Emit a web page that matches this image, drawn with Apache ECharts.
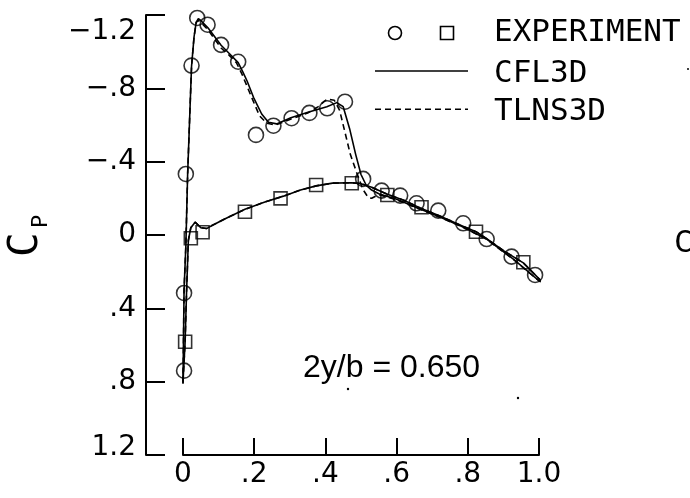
<!DOCTYPE html>
<html>
<head>
<meta charset="utf-8">
<script src="https://cdn.jsdelivr.net/npm/echarts@6/dist/echarts.min.js"></script>
<style>
html,body{margin:0;padding:0;background:#fff;}
#chart{width:690px;height:498px;}
</style>
</head>
<body>
<div id="chart"></div>
<script>
// ---- tick labels ----
const xTickLabels = ['0', '.2', '.4', '.6', '.8', '1.0'];
const yTickLabels = ['\u22121.2', '\u2212.8', '\u2212.4', '0', '.4', '.8', '1.2'];

// ---- experiment: circles ----
const expCircleX  = [0.003, 0.003, 0.008, 0.024, 0.040, 0.069, 0.107, 0.155, 0.205, 0.254, 0.305, 0.355, 0.405, 0.455, 0.506, 0.558, 0.610, 0.656, 0.717, 0.787, 0.853, 0.923, 0.989];
const expCircleCp = [0.740, 0.316, -0.333, -0.924, -1.184, -1.147, -1.037, -0.945, -0.546, -0.596, -0.637, -0.666, -0.691, -0.727, -0.306, -0.242, -0.215, -0.173, -0.133, -0.064, 0.022, 0.118, 0.218];

// ---- experiment: squares ----
const expSquareX  = [0.006, 0.022, 0.055, 0.174, 0.274, 0.374, 0.474, 0.574, 0.670, 0.823, 0.956];
const expSquareCp = [0.582, 0.018, -0.015, -0.127, -0.200, -0.273, -0.282, -0.218, -0.151, -0.018, 0.149];

// ---- CFL3D (solid) ----
const cflUpperX  = [0.000, 0.003, 0.008, 0.013, 0.018, 0.024, 0.031, 0.037, 0.043, 0.050, 0.070, 0.107, 0.130, 0.155, 0.168, 0.180, 0.198, 0.221, 0.240, 0.263, 0.303, 0.351, 0.404, 0.432, 0.450, 0.468, 0.485, 0.500, 0.515, 0.530, 0.550, 0.600, 0.666, 0.720, 0.778, 0.853, 0.928, 1.003];
const cflUpperCp = [0.81, 0.30, 0.06, -0.33, -0.60, -0.92, -1.08, -1.16, -1.18, -1.17, -1.13, -1.035, -0.99, -0.94, -0.89, -0.84, -0.751, -0.660, -0.615, -0.606, -0.640, -0.670, -0.700, -0.722, -0.700, -0.58, -0.44, -0.33, -0.27, -0.245, -0.225, -0.195, -0.142, -0.100, -0.051, 0.022, 0.131, 0.255];
const cflLowerX  = [0.000, 0.006, 0.010, 0.015, 0.022, 0.034, 0.050, 0.066, 0.080, 0.120, 0.174, 0.230, 0.282, 0.330, 0.374, 0.420, 0.474, 0.500, 0.530, 0.574, 0.620, 0.666, 0.720, 0.778, 0.823, 0.853, 0.900, 0.956, 1.003, 1.012, 1.035];
const cflLowerCp = [0.80, 0.58, 0.31, 0.03, -0.04, -0.07, -0.04, -0.035, -0.05, -0.09, -0.14, -0.18, -0.212, -0.245, -0.268, -0.283, -0.285, -0.280, -0.260, -0.222, -0.190, -0.148, -0.105, -0.055, -0.018, 0.020, 0.085, 0.152, 0.245, 0.275, 0.215];

// ---- TLNS3D (dashed) ----
const tlnUpperX  = [0.000, 0.003, 0.008, 0.013, 0.018, 0.024, 0.031, 0.037, 0.043, 0.050, 0.070, 0.107, 0.130, 0.150, 0.165, 0.178, 0.193, 0.215, 0.235, 0.260, 0.300, 0.350, 0.380, 0.405, 0.425, 0.440, 0.455, 0.470, 0.488, 0.505, 0.520, 0.530, 0.550, 0.600, 0.666, 0.720, 0.778, 0.853, 0.928, 1.003];
const tlnUpperCp = [0.81, 0.30, 0.06, -0.33, -0.60, -0.92, -1.08, -1.16, -1.17, -1.16, -1.12, -1.02, -0.98, -0.94, -0.88, -0.82, -0.75, -0.65, -0.61, -0.60, -0.63, -0.665, -0.700, -0.742, -0.735, -0.680, -0.560, -0.440, -0.340, -0.250, -0.205, -0.200, -0.220, -0.192, -0.140, -0.098, -0.050, 0.024, 0.133, 0.255];
const tlnLowerX  = [0.000, 0.006, 0.010, 0.015, 0.022, 0.034, 0.050, 0.066, 0.080, 0.120, 0.174, 0.230, 0.282, 0.330, 0.374, 0.420, 0.474, 0.500, 0.530, 0.574, 0.620, 0.666, 0.720, 0.778, 0.823, 0.853, 0.900, 0.956, 1.003];
const tlnLowerCp = [0.80, 0.58, 0.31, 0.03, -0.04, -0.07, -0.04, -0.035, -0.05, -0.09, -0.14, -0.18, -0.212, -0.245, -0.268, -0.283, -0.285, -0.280, -0.260, -0.222, -0.190, -0.148, -0.105, -0.055, -0.018, 0.020, 0.085, 0.152, 0.245];

const pairs = (xs, ys) => xs.map((x, i) => [x, ys[i]]);
const tickFont = {fontFamily: 'DejaVu Sans', fontSize: 28, color: '#000', lineHeight: 30};
const tickRich = {
  t: Object.assign({}, tickFont),
  top: Object.assign({}, tickFont, {padding: [34, 0, 0, 0]}),
  bot: Object.assign({}, tickFont, {padding: [0, 0, 14, 0]})
};

const chart = echarts.init(document.getElementById('chart'), null, {renderer: 'canvas'});
const blk = '#000';
const lineBase = {type: 'line', showSymbol: false, symbol: 'none', smooth: false, clip: false, silent: true};

chart.setOption({
  animation: false,
  backgroundColor: '#fff',
  grid: {left: 183, right: 151, top: 15, bottom: 43, containLabel: false, outerBoundsMode: 'none'},
  xAxis: {
    type: 'value', min: 0, max: 1, interval: 0.2,
    axisLine: {show: true, onZero: false, lineStyle: {color: blk, width: 2}},
    axisTick: {show: true, inside: true, length: 17, lineStyle: {color: blk, width: 2}},
    splitLine: {show: false},
    axisLabel: {
      margin: 5, color: blk, fontFamily: 'DejaVu Sans', fontSize: 28, rich: tickRich,
      formatter: v => '{t|' + xTickLabels[Math.round(v / 0.2)] + '}'
    }
  },
  yAxis: {
    type: 'value', min: -1.2, max: 1.2, interval: 0.4, inverse: true,
    offset: 37,
    axisLine: {show: true, onZero: false, lineStyle: {color: blk, width: 2}},
    axisTick: {show: true, inside: true, length: 19, lineStyle: {color: blk, width: 2}},
    splitLine: {show: false},
    axisLabel: {
      margin: 10, color: blk, fontFamily: 'DejaVu Sans', fontSize: 28, rich: tickRich,
      formatter: v => {
        const i = Math.round((v + 1.2) / 0.4);
        const key = i === 0 ? 'top' : (i === yTickLabels.length - 1 ? 'bot' : 't');
        return '{' + key + '|' + yTickLabels[i] + '}';
      }
    }
  },
  series: [
    Object.assign({}, lineBase, {name: 'CFL3D upper', data: pairs(cflUpperX, cflUpperCp), lineStyle: {color: blk, width: 1.6}}),
    Object.assign({}, lineBase, {name: 'CFL3D lower', data: pairs(cflLowerX, cflLowerCp), lineStyle: {color: blk, width: 1.6}}),
    Object.assign({}, lineBase, {name: 'TLNS3D upper', data: pairs(tlnUpperX, tlnUpperCp), lineStyle: {color: blk, width: 1.6, type: [6, 4]}}),
    Object.assign({}, lineBase, {name: 'TLNS3D lower', data: pairs(tlnLowerX, tlnLowerCp), lineStyle: {color: blk, width: 1.6, type: [6, 4]}}),
    {
      type: 'scatter', name: 'EXPERIMENT circles', symbol: 'circle', symbolSize: 15,
      data: pairs(expCircleX, expCircleCp),
      itemStyle: {color: 'rgba(0,0,0,0)', borderColor: blk, borderWidth: 1.6}, silent: true, z: 5
    },
    {
      type: 'scatter', name: 'EXPERIMENT squares', symbol: 'rect', symbolSize: 13,
      data: pairs(expSquareX, expSquareCp),
      itemStyle: {color: 'rgba(0,0,0,0)', borderColor: blk, borderWidth: 1.6}, silent: true, z: 5
    }
  ],
  graphic: [
    // legend
    {type: 'circle', shape: {cx: 395, cy: 33, r: 6.5}, style: {fill: 'none', stroke: blk, lineWidth: 1.6}},
    {type: 'rect', shape: {x: 440.5, y: 26.5, width: 13, height: 13}, style: {fill: 'none', stroke: blk, lineWidth: 1.6}},
    {type: 'line', shape: {x1: 375, y1: 71, x2: 468, y2: 71}, style: {stroke: blk, lineWidth: 1.6}},
    {type: 'line', shape: {x1: 375, y1: 109.3, x2: 468, y2: 109.3}, style: {stroke: blk, lineWidth: 1.6, lineDash: [6, 4]}},
    {type: 'text', left: 494, top: 17, style: {text: 'EXPERIMENT', fill: blk, font: '31px "DejaVu Sans Mono"'}},
    {type: 'text', left: 494, top: 58, style: {text: 'CFL3D', fill: blk, font: '31px "DejaVu Sans Mono"'}},
    {type: 'text', left: 494, top: 96, style: {text: 'TLNS3D', fill: blk, font: '31px "DejaVu Sans Mono"'}},
    // annotation
    {type: 'text', left: 303, top: 352, style: {text: '2y/b = 0.650', fill: blk, font: '32px "Liberation Sans"'}},
    // axis title C_P (rotated)
    {
      type: 'group', x: 26, y: 257, rotation: Math.PI / 2,
      children: [
        {type: 'text', x: 0, y: 0, style: {text: 'C', fill: blk, font: '41px "DejaVu Sans Mono"', textAlign: 'left', textVerticalAlign: 'middle'}},
        {type: 'text', x: 29, y: 15, style: {text: 'P', fill: blk, font: '22px "DejaVu Sans Mono"', textAlign: 'left', textVerticalAlign: 'middle'}}
      ]
    },
    // neighbouring panel's label fragment at right edge
    {type: 'text', x: 674, y: 244, style: {text: 'C', fill: blk, font: '31px "DejaVu Sans Mono"', textAlign: 'left', textVerticalAlign: 'middle'}},
    // scan specks
    {type: 'circle', shape: {cx: 348, cy: 389, r: 1.2}, style: {fill: blk}},
    {type: 'circle', shape: {cx: 518, cy: 398, r: 1.2}, style: {fill: blk}},
    {type: 'circle', shape: {cx: 688, cy: 69, r: 1}, style: {fill: blk}}
  ]
});
</script>
</body>
</html>
